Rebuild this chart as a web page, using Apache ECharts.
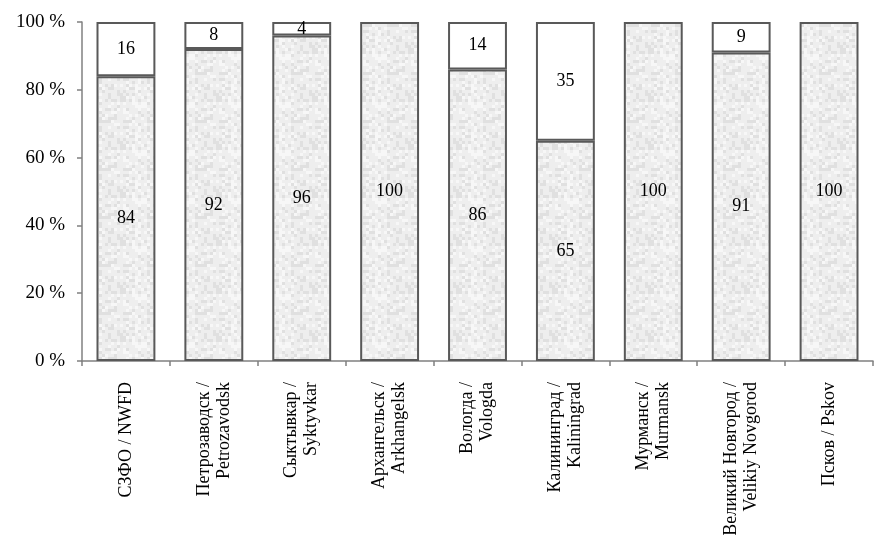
<!DOCTYPE html>
<html>
<head>
<meta charset="utf-8">
<script src="https://cdn.jsdelivr.net/npm/echarts@6/dist/echarts.min.js"></script>
<style>
  html, body { margin: 0; padding: 0; background: #fff; }
  #chart { width: 881px; height: 535px; }
</style>
</head>
<body>
<div id="chart"></div>
<script>
var categories = [
  "СЗФО / NWFD",
  "Петрозаводск /\nPetrozavodsk",
  "Сыктывкар /\nSyktyvkar",
  "Архангельск /\nArkhangelsk",
  "Вологда /\nVologda",
  "Калининград /\nKaliningrad",
  "Мурманск /\nMurmansk",
  "Великий Новгород /\nVelikiy Novgorod",
  "Псков / Pskov"
];
var lowerValues = [84, 92, 96, 100, 86, 65, 100, 91, 100];
var upperValues = [16, 8, 4, 0, 14, 35, 0, 9, 0];
var yTicks = [0, 20, 40, 60, 80, 100];

// mottled grey texture for the lower bars
function makeTexture() {
  var c = document.createElement("canvas");
  c.width = 48; c.height = 48;
  var ctx = c.getContext("2d");
  ctx.fillStyle = "#eeeeee";
  ctx.fillRect(0, 0, 48, 48);
  for (var y = 0; y < 48; y += 3) {
    for (var x = 0; x < 48; x += 3) {
      var h = Math.sin(x * 12.9898 + y * 78.233) * 43758.5453;
      h = h - Math.floor(h);
      if (h < 0.22) { ctx.fillStyle = "#e0e0e0"; ctx.fillRect(x, y, 3, 3); }
      else if (h > 0.78) { ctx.fillStyle = "#f7f7f7"; ctx.fillRect(x, y, 3, 3); }
    }
  }
  return c;
}

var chart = echarts.init(document.getElementById("chart"));
var font = "Liberation Serif";

chart.setOption({
  animation: false,
  backgroundColor: "#ffffff",
  grid: { left: 82, right: 8, top: 22, bottom: 174, containLabel: false, outerBoundsMode: "none" },
  xAxis: {
    type: "category",
    data: categories,
    axisLine: { lineStyle: { color: "#808080", width: 1.5 } },
    axisTick: { show: true, length: 5, lineStyle: { color: "#808080", width: 1.5 } },
    axisLabel: {
      rotate: 90,
      margin: 21,
      color: "#000",
      fontFamily: font,
      fontSize: 18,
      lineHeight: 20
    }
  },
  yAxis: {
    type: "value",
    min: 0,
    max: 100,
    interval: 20,
    axisLine: { show: true, lineStyle: { color: "#808080", width: 1.5 } },
    axisTick: { show: true, length: 5, lineStyle: { color: "#808080", width: 1.5 } },
    splitLine: { show: false },
    axisLabel: {
      margin: 17,
      color: "#000",
      fontFamily: font,
      fontSize: 19,
      formatter: function (v) { return yTicks.indexOf(v) >= 0 ? v + " %" : ""; }
    }
  },
  series: [
    {
      type: "bar",
      stack: "total",
      data: lowerValues,
      barCategoryGap: "33%",
      itemStyle: {
        color: { image: makeTexture(), repeat: "repeat" },
        borderColor: "#595959",
        borderWidth: 2
      },
      label: {
        show: true,
        position: "inside",
        color: "#000",
        fontFamily: font,
        fontSize: 18
      }
    },
    {
      type: "bar",
      stack: "total",
      data: upperValues.map(function (v) { return v ? v : null; }),
      itemStyle: {
        color: "#ffffff",
        borderColor: "#595959",
        borderWidth: 2
      },
      label: {
        show: true,
        position: "inside",
        color: "#000",
        fontFamily: font,
        fontSize: 18
      }
    }
  ]
});
</script>
</body>
</html>
